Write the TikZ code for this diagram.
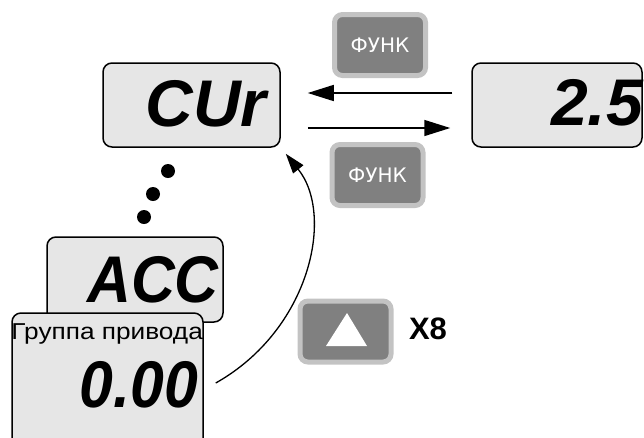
\documentclass[tikz,border=0pt]{standalone}
\usepackage{fontspec}
\setmainfont{Liberation Sans}
\newfontfamily\btnfont{DejaVu Sans}
\newfontfamily\segfont{Liberation Sans}
\usetikzlibrary{arrows.meta,calc}
\definecolor{lcdgray}{HTML}{E6E6E6}
\definecolor{btnouter}{HTML}{C3C3C3}
\definecolor{btninner}{HTML}{808080}
\tikzset{
  lcd/.style={draw=black, line width=1.5pt, fill=lcdgray, rounded corners=9pt, inner sep=0pt},
  segtext/.style={font=\segfont\bfseries\itshape\fontsize{66}{66}\selectfont, inner sep=0pt},
  btn/.style={draw=btnouter, line width=5pt, fill=btninner, rounded corners=8pt, inner sep=0pt, minimum width=91pt, minimum height=61pt},
  btntext/.style={text=white, font=\btnfont\fontsize{20}{20}\selectfont},
  arr/.style={line width=1.5pt, -{Triangle[length=26pt,width=16pt]}},
  carr/.style={line width=1.3pt, -{Triangle[length=20pt,width=13pt]}},
  dotmark/.style={circle, fill=black, inner sep=0pt, minimum size=14pt}
}
\begin{document}
\begin{tikzpicture}[x=1pt,y=-1pt]
\useasboundingbox (0,0) rectangle (644,437);
% LCD displays
\node[lcd, minimum width=177pt, minimum height=84pt] (cur) at (191.5,105) {};
\node[segtext] (curtxt) at (206,104) {CUr};
\node[lcd, minimum width=170pt, minimum height=84pt] (val) at (557,105) {};
\node[segtext] (valtxt) at (597,103) {2.5};
\node[lcd, minimum width=176pt, minimum height=85pt] (acc) at (135,279.5) {};
\node[segtext, xscale=0.92] (acctxt) at (153,280) {ACC};
\node[lcd, minimum width=191pt, minimum height=140pt] (zero) at (107.5,383) {};
\node[segtext, xscale=0.92] (zerotxt) at (139,385) {0.00};
\node[anchor=base west, inner sep=0pt, font=\fontsize{23}{23}\selectfont, xscale=1.14] (grp) at ([yshift=-27pt]zero.north west) {Группа привода};
% dots
\node[dotmark] (d1) at (168,171) {};
\node[dotmark] (d2) at (153,194) {};
\node[dotmark] (d3) at (144,217) {};
% buttons
\node[btn] (fnA) at (380,45) {};
\node[btntext] (fnAt) at (fnA) {ФУНК};
\node[btn] (fnB) at (377.5,175) {};
\node[btntext] (fnBt) at (fnB) {ФУНК};
\node[btn] (up) at (345.5,331.5) {};
\fill[white] ([shift={(1.5,-18.5)}]up.center) -- ([shift={(-19.5,14.5)}]up.center) -- ([shift={(21.5,14.5)}]up.center) -- cycle;
\node[font=\bfseries\fontsize{31}{31}\selectfont, inner sep=0pt] (x8) at (428,329) {X8};
% arrows
\draw[arr] ([shift={(-19pt,12pt)}]val.west) -- ([shift={(27pt,12pt)}]cur.east);
\draw[arr] ([shift={(27pt,-23pt)}]cur.east) -- ([shift={(-21pt,-23pt)}]val.west);
\draw[carr] ([xshift=12pt]zero.east) .. controls (310,330) and (335,215) .. ([shift={(5pt,-6pt)}]cur.south east);
\end{tikzpicture}
\end{document}
